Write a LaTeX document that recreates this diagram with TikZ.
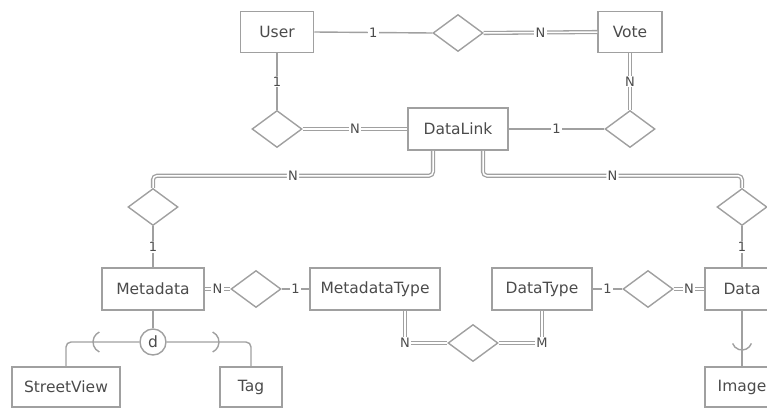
\documentclass[tikz,border=0pt]{standalone}
\usepackage{fontspec}
\setmainfont{DejaVu Sans}
\usetikzlibrary{shapes.geometric}
\definecolor{linegray}{RGB}{160,160,160}
\definecolor{textgray}{RGB}{75,75,75}

\begin{document}
\begin{tikzpicture}[x=1pt,y=-1pt,font=\fontsize{15.5}{17}\selectfont,text=textgray,
 ent/.style={draw=linegray,line width=1.5pt,minimum height=41pt,inner sep=2pt},
 rel/.style={diamond,draw=linegray,line width=1.4pt,minimum width=50pt,minimum height=37pt,inner sep=0pt},
 card/.style={fill=white,inner sep=1.2pt,font=\fontsize{13}{14}\selectfont},
 part/.style={draw=linegray,line width=1.4pt},
 total/.style={draw=linegray,line width=1.3pt,double=white,double distance=1.5pt}]
\useasboundingbox (0,0) rectangle (767,410);
\clip (0,0) rectangle (767,410);
% entities and relationships
\node[ent,minimum width=73pt] (user) at (277,32) {User};
\node[ent,minimum width=64pt] (vote) at (630,32) {Vote};
\node[rel] (rUserVote) at (458,33) {};
\node[ent,minimum width=100pt,minimum height=42pt] (datalink) at (458,129) {DataLink};
\node[rel] (rUserLink) at (277,129) {};
\node[rel] (rVoteLink) at (630,129) {};
\node[rel] (rLinkMeta) at (153,207) {};
\node[rel] (rLinkData) at (742,207) {};
\node[ent,minimum width=102pt,minimum height=42pt] (metadata) at (153,289) {Metadata};
\node[rel] (rMetaType) at (256,289) {};
\node[ent,minimum width=130pt,minimum height=42pt] (metatype) at (375,289) {MetadataType};
\node[ent,minimum width=100pt,minimum height=42pt] (datatype) at (542,289) {DataType};
\node[rel] (rDataType) at (648,289) {};
\node[ent,minimum width=74pt,minimum height=42pt] (data) at (742,289) {Data};
\node[rel] (rTypes) at (473,343) {};
\node[ent,minimum width=74pt,minimum height=40pt] (image) at (742,387) {Image};
\node[ent,minimum width=108pt,minimum height=40pt] (streetview) at (66,387) {StreetView};
\node[ent,minimum width=62pt,minimum height=40pt] (tag) at (251,387) {Tag};
\node[circle,draw=linegray,line width=1.4pt,minimum size=26pt,inner sep=0pt] (disj) at (153,342) {d};
% links
\foreach \a/\b in {user.east/rUserVote.west,user.south/rUserLink.north,datalink.east/rVoteLink.west,rLinkMeta.south/metadata.north,rLinkData.south/data.north,rMetaType.east/metatype.west,datatype.east/rDataType.west}
 \draw[part] (\a) -- node[card]{1} (\b);
\foreach \a/\b in {rUserVote.east/vote.west,vote.south/rVoteLink.north,rUserLink.east/datalink.west,metadata.east/rMetaType.west,rDataType.east/data.west}
 \draw[total] (\a) -- node[card]{N} (\b);
\draw[total,rounded corners=4pt] ([xshift=-25pt]datalink.south) -- ++(0,25) -| node[card,pos=0.25]{N} (rLinkMeta.north);
\draw[total,rounded corners=4pt] ([xshift=25pt]datalink.south) -- ++(0,25) -| node[card,pos=0.25]{N} (rLinkData.north);
\draw[total] ([xshift=30pt]metatype.south) |- node[card]{N} (rTypes.west);
\draw[total] (datatype.south) |- node[card]{M} (rTypes.east);
% specialisation
\draw[part] (metadata.south) -- (disj.north);
\draw[part,rounded corners=5pt] (disj.west) -| (streetview.north);
\draw[part,rounded corners=5pt] (disj.east) -| (tag.north);
\draw[part] (data.south) -- (image.north);
\coordinate (subSV) at (104,342);
\coordinate (subTag) at (208,342);
\coordinate (subImg) at (742,340);
\draw[part] (subSV) ++(115:11) arc[start angle=115,end angle=245,radius=11];
\draw[part] (subTag) ++(-65:11) arc[start angle=-65,end angle=65,radius=11];
\draw[part] (subImg) ++(20:10) arc[start angle=20,end angle=160,radius=10];
\end{tikzpicture}
\end{document}
